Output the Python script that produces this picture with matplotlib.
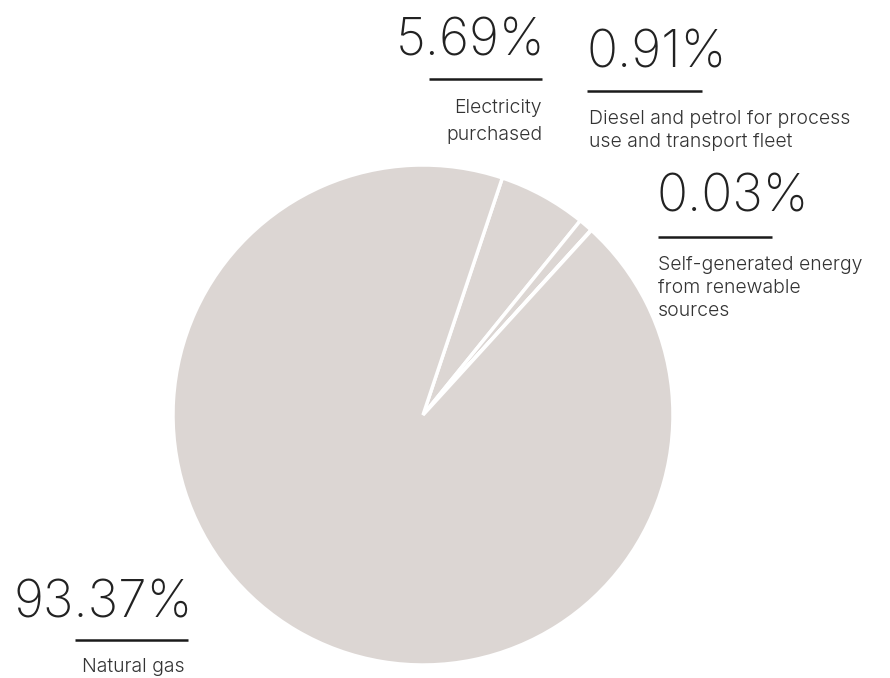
import matplotlib
matplotlib.use("Agg")
import matplotlib.pyplot as plt

# ---- data ----
categories = ["Electricity purchased",
              "Diesel and petrol for process use and transport fleet",
              "Self-generated energy from renewable sources",
              "Natural gas"]
values = [5.69, 0.91, 0.03, 93.37]
value_labels = ["5.69%", "0.91%", "0.03%", "93.37%"]
label_lines = [["Electricity", "purchased"],
               ["Diesel and petrol for process", "use and transport fleet"],
               ["Self-generated energy", "from renewable", "sources"],
               ["Natural gas"]]

W, H = 890, 678
fig = plt.figure(figsize=(W / 100, H / 100), dpi=100)
ax = fig.add_axes([0, 0, 1, 1])

def Y(y):
    return H - y

pie_color = "#dcd6d3"
ax.pie(values, colors=[pie_color] * len(values), startangle=90 - 18.5,
       counterclock=False, center=(423, Y(415)), radius=250,
       wedgeprops=dict(edgecolor="white", linewidth=2.5), frame=True)
ax.set_xlim(0, W)
ax.set_ylim(0, H)
ax.set_aspect("equal")
ax.axis("off")

num_color = "#222222"
lab_color = "#333333"
numfont = dict(family="Inter", weight=200, size=37, color=num_color)
labfont = dict(family="Inter", weight=300, size=14, color=lab_color)

# layout: (number x, number baseline, number ha, line x0, x1, line y,
#          label x, label baselines, label ha)
layout = [
    (545, 55, "right", 429, 542, 79, 542, [113, 140], "right"),
    (586, 67, "left", 587, 702, 91, 589, [124, 147], "left"),
    (656, 212, "left", 658, 772, 237, 658, [270, 293, 316], "left"),
    (193, 618, "right", 75, 188, 640, 133, [672], "center"),
]

for vl, lines, (nx, ny, nha, x0, x1, ly, lx, lbs, lha) in zip(value_labels, label_lines, layout):
    ax.text(nx, Y(ny), vl, ha=nha, va="baseline", **numfont)
    ax.plot([x0, x1], [Y(ly), Y(ly)], color="#1a1a1a", lw=1.8, solid_capstyle="butt")
    for line, b in zip(lines, lbs):
        ax.text(lx, Y(b), line, ha=lha, va="baseline", **labfont)

fig.savefig("out.png", dpi=100, facecolor="white")
